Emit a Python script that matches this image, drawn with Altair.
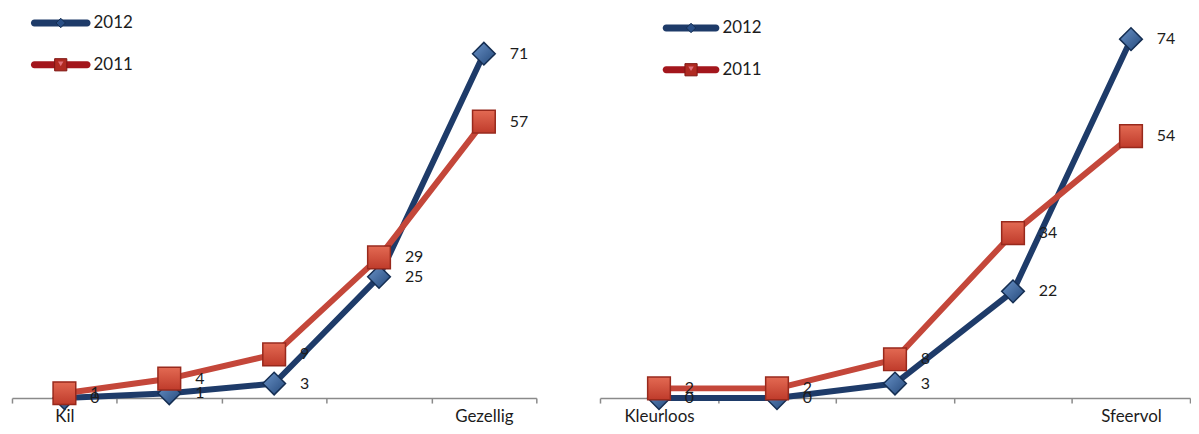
import json
import altair as alt
import pandas as pd

# ---- data ----
left_categories = ["Kil", "", "", "", "Gezellig"]
right_categories = ["Kleurloos", "", "", "", "Sfeervol"]
series_names = ["2012", "2011"]
left_2012 = [0, 1, 3, 25, 71]
left_2011 = [1, 4, 9, 29, 57]
right_2012 = [0, 0, 3, 22, 74]
right_2011 = [2, 2, 8, 34, 54]

FONT = "Lato"
BLUE_LINE = "#1E3B69"
RED_LINE = "#C4473A"
BLUE_EDGE = "#152E52"
RED_EDGE = "#98291C"
TEXT = "#1C1C1C"
AXIS = "#8A8A8A"

blue_grad = alt.Gradient(gradient="linear", x1=0, y1=0, x2=1, y2=1,
                         stops=[alt.GradientStop(color="#6A93C8", offset=0),
                                alt.GradientStop(color="#24487A", offset=1)])
red_grad = alt.Gradient(gradient="linear", x1=0, y1=0, x2=0, y2=1,
                        stops=[alt.GradientStop(color="#E36A53", offset=0),
                               alt.GradientStop(color="#BF3B2B", offset=1)])

H = 390


def make_panel(categories, v2012, v2011, width, lx0, lx1, ly2012, ly2011):
    n = len(categories)
    rows = []
    for i, c in enumerate(categories):
        rows.append({"pos": i + 1, "series": "2012", "value": v2012[i]})
        rows.append({"pos": i + 1, "series": "2011", "value": v2011[i]})
    df = pd.DataFrame(rows)

    ticks = [i + 0.5 for i in range(n + 1)] + [i + 1 for i in range(n)]
    label_expr = f"datum.value % 1 === 0 ? {json.dumps(categories)}[datum.value - 1] : ''"
    x = alt.X("pos:Q",
              scale=alt.Scale(domain=[0.5, n + 0.5], nice=False, zero=False),
              axis=alt.Axis(title=None, values=ticks, labelExpr=label_expr,
                            tickOpacity={"condition": {"test": "datum.value % 1 === 0", "value": 0}, "value": 1},
                            tickSize=5, tickWidth=1.5, tickColor=AXIS, domainColor=AXIS,
                            domainWidth=1.5, labelFont=FONT, labelFontSize=17,
                            labelColor=TEXT, labelPadding=6, labelOverlap=False,
                            labelFlush=False, grid=False))
    y = alt.Y("value:Q", scale=alt.Scale(domain=[0, 80], nice=False), axis=None)

    base = alt.Chart(df)
    s12 = base.transform_filter(alt.datum.series == "2012")
    s11 = base.transform_filter(alt.datum.series == "2011")

    line12 = s12.mark_line(color=BLUE_LINE, strokeWidth=6, strokeJoin="round").encode(x=x, y=y)
    line11 = s11.mark_line(color=RED_LINE, strokeWidth=6, strokeJoin="round").encode(x=x, y=y)
    pts12 = s12.mark_point(shape="diamond", size=520, filled=True, fill=blue_grad,
                           stroke=BLUE_EDGE, strokeWidth=1.5, opacity=1).encode(x=x, y=y)
    pts11 = s11.mark_point(shape="square", size=520, filled=True, fill=red_grad,
                           stroke=RED_EDGE, strokeWidth=1.5, opacity=1).encode(x=x, y=y)
    txt = base.mark_text(align="left", baseline="middle", dx=26, font=FONT,
                         fontSize=16, color=TEXT).encode(x=x, y=y, text="value:Q")

    one = pd.DataFrame({"k": [0]})
    leg = []
    for name, ly, col in [("2012", ly2012, BLUE_LINE), ("2011", ly2011, "#A3161C")]:
        c = alt.Chart(one)
        leg.append(c.mark_rect(color=col, cornerRadius=3.5).encode(
            x=alt.value(lx0), x2=alt.value(lx1),
            y=alt.value(ly - 3.5), y2=alt.value(ly + 3.5)))
        leg.append(c.mark_text(text=name, align="left", baseline="middle", font=FONT,
                               fontSize=17, color=TEXT).encode(
            x=alt.value(lx1 + 3), y=alt.value(ly)))
    mid = (lx0 + lx1) / 2
    c = alt.Chart(one)
    leg.append(c.mark_point(shape="diamond", size=90, filled=True, fill="#2A4F86",
                            stroke=BLUE_EDGE, strokeWidth=1, opacity=1).encode(
        x=alt.value(mid), y=alt.value(ly2012)))
    leg.append(c.mark_point(shape="square", size=150, filled=True, fill="#B02A22",
                            stroke="#7E1612", strokeWidth=1, opacity=1).encode(
        x=alt.value(mid), y=alt.value(ly2011)))
    leg.append(c.mark_point(shape="triangle-down", size=30, filled=True, fill="#E0707A",
                            opacity=1).encode(x=alt.value(mid), y=alt.value(ly2011 - 1)))

    return alt.layer(line12, line11, pts12, pts11, txt, *leg).properties(width=width, height=H)


left = make_panel(left_categories, left_2012, left_2011, 527, 19, 79, 13, 55)
right = make_panel(right_categories, right_2012, right_2011, 593, 63, 120, 18, 60)

chart = alt.hconcat(left, right, spacing=62).properties(
    padding={"left": 3, "top": 1, "right": 0, "bottom": 0}
).configure(background="white").configure_view(strokeWidth=0, stroke="transparent")

chart.save("out.html", embed_options={"renderer": "svg", "actions": False})
